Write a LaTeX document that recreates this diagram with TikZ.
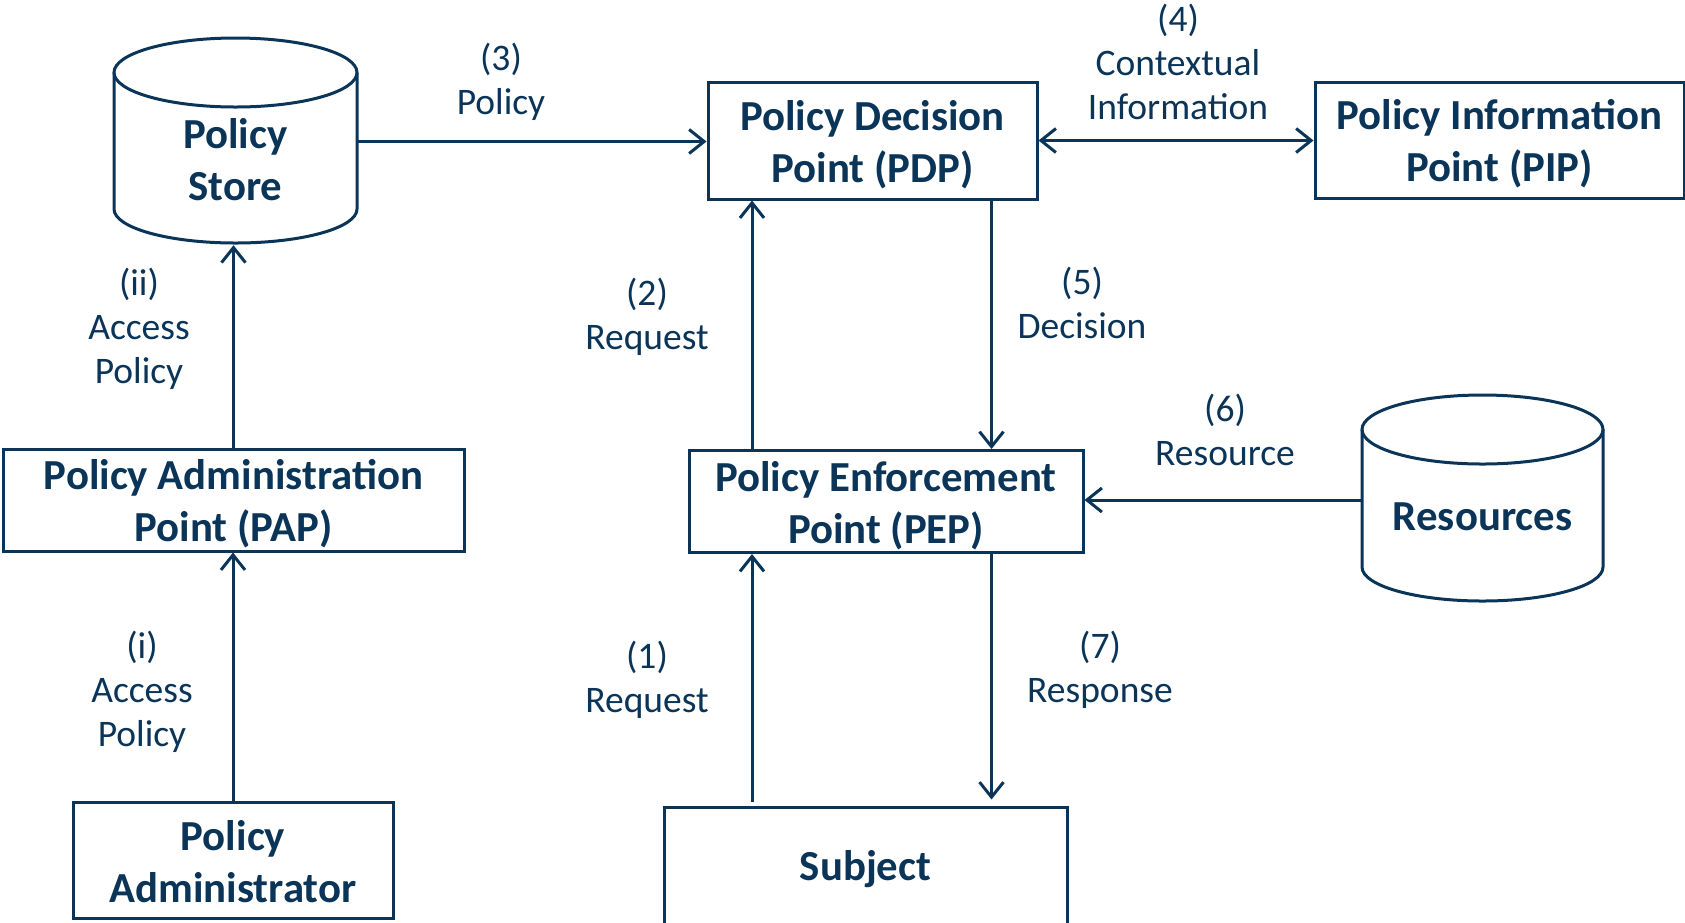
\documentclass[tikz,border=0pt]{standalone}
\usepackage{fontspec}
\setmainfont{Carlito}
\usetikzlibrary{arrows.meta,calc}
\definecolor{navy}{RGB}{10,52,88}

\begin{document}
\begin{tikzpicture}[x=1pt,y=1pt,
  outline/.style={draw=navy, line width=3pt},
  box/.style={draw=navy, line width=3pt, rectangle, inner sep=0pt},
  boxtext/.style={inner sep=0pt, align=center, text=navy,
    font=\bfseries\fontsize{42.8}{52}\selectfont},
  lbl/.style={inner sep=0pt, align=center, text=navy,
    font=\fontsize{37.5}{44}\selectfont},
  hold/.style={inner sep=0pt, rectangle},
  arr/.style={draw=navy, line width=3pt, -{Straight Barb[length=15pt,width=24pt]}},
  arrboth/.style={draw=navy, line width=3pt,
    {Straight Barb[length=15pt,width=24pt]}-{Straight Barb[length=15pt,width=24pt]}}]

\useasboundingbox (0,0) rectangle (1685,-922);

% Boxes
\node[box, minimum width=329pt, minimum height=117pt] (pdp) at (872.5,-140.5) {};
\node[box, minimum width=369pt, minimum height=116pt] (pip) at (1499.5,-140) {};
\node[box, minimum width=461pt, minimum height=102pt] (pap) at (233.5,-500) {};
\node[box, minimum width=320pt, minimum height=116pt] (admin) at (233,-860) {};
\node[box, minimum width=394pt, minimum height=102pt] (pep) at (886,-501.5) {};
\node[box, minimum width=403pt, minimum height=123pt] (subject) at (865.5,-868.5) {};

% Box captions
\node[boxtext] (pdptext) at ($(pdp.center)+(0,-4)$) {Policy Decision\\Point (PDP)};
\node[boxtext] (piptext) at ($(pip.center)+(0,-4)$) {Policy Information\\Point (PIP)};
\node[boxtext] (paptext) at ($(pap.center)+(0,-4)$) {Policy Administration\\Point (PAP)};
\node[boxtext] (admintext) at ($(admin.center)+(0,-2)$) {Policy\\Administrator};
\node[boxtext] (peptext) at ($(pep.center)+(0,-4)$) {Policy Enforcement\\Point (PEP)};
\node[boxtext] (subjecttext) at ($(subject.center)+(0,-1)$) {Subject};

% Policy store cylinder
\node[hold, minimum width=243pt, minimum height=207pt] (store) at (235.5,-141.5) {};
\draw[outline] (235.5,-72.5) ellipse [x radius=121.5pt, y radius=34.5pt];
\draw[outline] (114,-72.5) -- (114,-209)
  arc[start angle=180, end angle=360, x radius=121.5pt, y radius=34pt] -- (357,-72.5);
\node[boxtext] (storelbl) at (235.5,-160) {Policy\\Store};

% Resources cylinder
\node[hold, minimum width=241pt, minimum height=206pt] (res) at (1482.5,-500) {};
\draw[outline] (1482.5,-429.5) ellipse [x radius=120.5pt, y radius=34.5pt];
\draw[outline] (1362,-429.5) -- (1362,-567)
  arc[start angle=180, end angle=360, x radius=120.5pt, y radius=34pt] -- (1603,-429.5);
\node[boxtext] (reslbl) at (1482.5,-517) {Resources};

% Column positions of the vertical connectors
\coordinate (xl) at (752,0);
\coordinate (xr) at (991.5,0);

% Connectors
\draw[arr] (store.east) -- (pdp.west |- store.east);
\draw[arrboth] (pdp.east) -- (pip.west |- pdp.east);
\draw[arr] (pdp.south -| xr) -- (pep.north -| xr);
\draw[arr] (pep.north -| xl) -- (pdp.south -| xl);
\draw[arr] (res.west) -- (pep.east |- res.west);
\draw[arr, shorten <=4pt] (subject.north -| xl) -- (pep.south -| xl);
\draw[arr, shorten >=6pt] (pep.south -| xr) -- (subject.north -| xr);
\draw[arr] (pap.north) -- (store.south -| pap.north);
\draw[arr] (admin.north) -- (pap.south -| admin.north);

% Connector labels
\node[lbl] (l3) at (501,-82) {(3)\\Policy};
\node[lbl] (l4) at (1178,-62) {(4)\\Contextual\\Information};
\node[lbl] (lii) at (139,-329) {(ii)\\Access\\Policy};
\node[lbl] (l2) at (647,-317) {(2)\\Request};
\node[lbl] (l5) at (1082,-303) {(5)\\Decision};
\node[lbl] (l6) at (1225,-430) {(6)\\Resource};
\node[lbl] (li) at (142,-692) {(i)\\Access\\Policy};
\node[lbl] (l1) at (647,-680) {(1)\\Request};
\node[lbl] (l7) at (1100,-670) {(7)\\Response};
\end{tikzpicture}
\end{document}
